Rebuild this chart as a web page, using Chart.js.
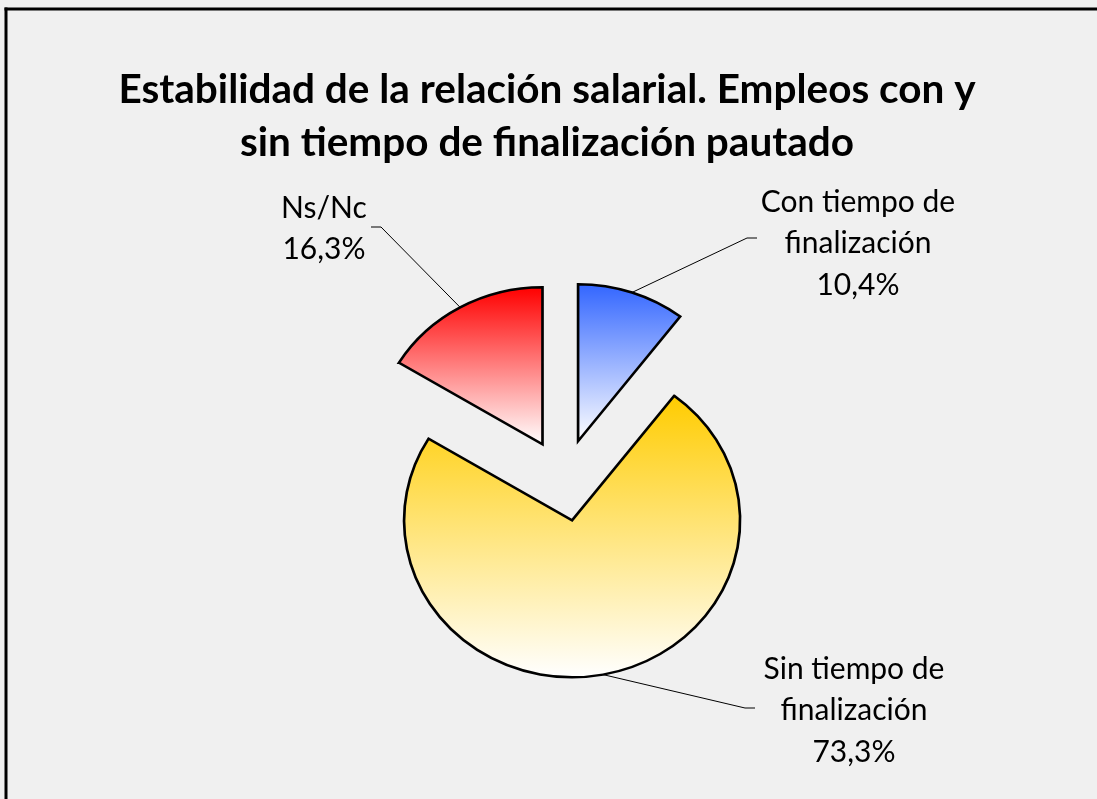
<!DOCTYPE html>
<html>
<head>
<meta charset="utf-8">
<script src="https://cdn.jsdelivr.net/npm/chart.js@4.4.1/dist/chart.umd.min.js"></script>
<style>
  html, body { margin: 0; padding: 0; background: #f0f0f0; overflow: hidden; }
  #wrap { width: 1097px; height: 799px; }
  canvas { display: block; }
</style>
</head>
<body>
<div id="wrap"><canvas id="pie" width="1097" height="799"></canvas></div>
<script>
// data
const titleLines = ["Estabilidad de la relación salarial. Empleos con y", "sin tiempo de finalización pautado"];
const categories = [["Con tiempo de", "finalización"], ["Sin tiempo de", "finalización"], ["Ns/Nc"]];
const values = [10.4, 73.3, 16.3];
const percentLabels = ["10,4%", "73,3%", "16,3%"];
const topColors = ["#3366ff", "#ffcc00", "#ff0000"];

const EXPLODE = 41;      // px each slice is pulled out
const RADIUS = 157;
const XSTRETCH = 1.07;   // the original pie is a bit wider than tall
// label placement relative to pie center: text center of first line, leader elbow, tick direction
const labelSpots = [
  { tx: 294, ty: -278, ex: 183, ey: -242, dir: 1 },
  { tx: 290, ty: 189, ex: 181, ey: 228, dir: 1 },
  { tx: -240, ty: -272, ex: -183, ey: -253, dir: -1 }
];

function pieCenter(chart) {
  const a = chart.chartArea;
  return { cx: (a.left + a.right) / 2, cy: (a.top + a.bottom) / 2 };
}

const frame = {
  id: "frame",
  beforeDraw(chart) {
    const ctx = chart.ctx;
    ctx.save();
    ctx.fillStyle = "#f0f0f0";
    ctx.fillRect(0, 0, chart.width, chart.height);
    ctx.fillStyle = "#000";
    ctx.fillRect(4.5, 7.5, chart.width - 4.5, 3);
    ctx.fillRect(4.5, 7.5, 3, chart.height - 7.5);
    // title
    ctx.font = "bold 40.5px Lato";
    ctx.textAlign = "center";
    ctx.textBaseline = "middle";
    titleLines.forEach((t, j) => ctx.fillText(t, 547, 90 + j * 53));
    ctx.restore();
  }
};

// pull slices out along their middle angle
const explode = {
  id: "explode",
  afterDatasetsUpdate(chart) {
    chart.getDatasetMeta(0).data.forEach(arc => {
      const mid = (arc.startAngle + arc.endAngle) / 2;
      arc.x += Math.cos(mid) * EXPLODE;
      arc.y += Math.sin(mid) * EXPLODE;
    });
  }
};

// vertical gradient per slice, colour at top to white at bottom; widen the pie
const gradients = {
  id: "gradients",
  beforeDatasetsDraw(chart) {
    const ctx = chart.ctx;
    chart.getDatasetMeta(0).data.forEach((arc, i) => {
      let ymin = arc.y, ymax = arc.y;
      for (let k = 0; k <= 64; k++) {
        const a = arc.startAngle + (arc.endAngle - arc.startAngle) * k / 64;
        const y = arc.y + Math.sin(a) * arc.outerRadius;
        ymin = Math.min(ymin, y);
        ymax = Math.max(ymax, y);
      }
      const g = ctx.createLinearGradient(0, ymin, 0, ymax);
      g.addColorStop(0, topColors[i]);
      g.addColorStop(1, "#ffffff");
      arc.options.backgroundColor = g;
    });
    const { cx } = pieCenter(chart);
    ctx.save();
    ctx.translate(cx, 0);
    ctx.scale(XSTRETCH, 1);
    ctx.translate(-cx, 0);
  },
  afterDatasetsDraw(chart) {
    chart.ctx.restore();
  }
};

const sliceLabels = {
  id: "sliceLabels",
  afterDatasetsDraw(chart) {
    const ctx = chart.ctx;
    const { cx, cy } = pieCenter(chart);
    ctx.save();
    chart.getDatasetMeta(0).data.forEach((arc, i) => {
      const s = labelSpots[i];
      const mid = (arc.startAngle + arc.endAngle) / 2;
      const px = cx + (arc.x + Math.cos(mid) * arc.outerRadius - cx) * XSTRETCH;
      const py = arc.y + Math.sin(mid) * arc.outerRadius;
      const ex = cx + s.ex, ey = cy + s.ey;
      ctx.strokeStyle = "#000";
      ctx.lineWidth = 1;
      ctx.beginPath();
      ctx.moveTo(px, py);
      ctx.lineTo(ex, ey);
      ctx.lineTo(ex + s.dir * 10, ey);
      ctx.stroke();

      const lines = categories[i].concat([percentLabels[i]]);
      ctx.fillStyle = "#000";
      ctx.font = "30px Lato";
      ctx.textAlign = "center";
      ctx.textBaseline = "middle";
      lines.forEach((t, j) => ctx.fillText(t, cx + s.tx, cy + s.ty + j * 41.5));
    });
    ctx.restore();
  }
};

new Chart(document.getElementById("pie"), {
  type: "pie",
  data: {
    labels: categories,
    datasets: [{
      data: values,
      backgroundColor: topColors,
      borderColor: "#000",
      borderWidth: 2.5,
      borderJoinStyle: "miter"
    }]
  },
  options: {
    responsive: false,
    animation: false,
    radius: RADIUS,
    layout: { padding: { left: 31, right: 0, top: 168, bottom: 7 } },
    plugins: {
      legend: { display: false },
      tooltip: { enabled: false },
      title: { display: false }
    }
  },
  plugins: [frame, explode, gradients, sliceLabels]
});
</script>
</body>
</html>
